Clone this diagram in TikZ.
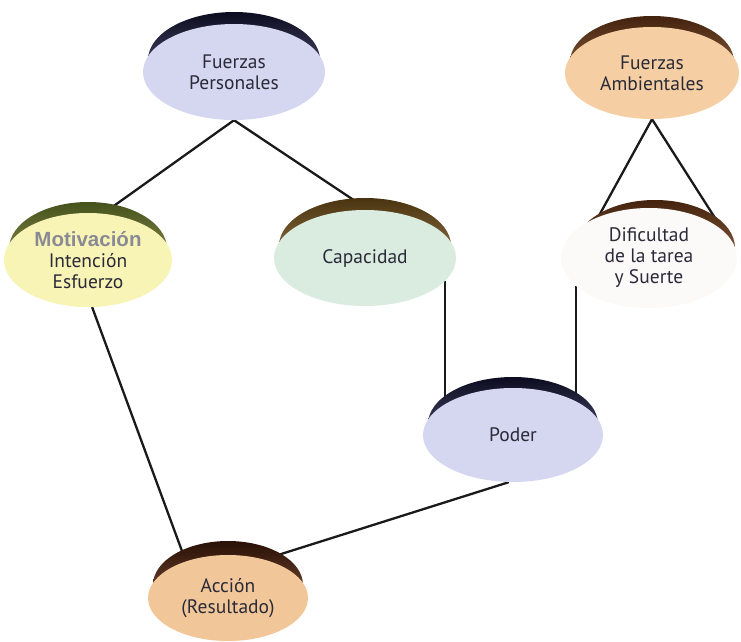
\documentclass[tikz,border=0pt]{standalone}
\usepackage{fontspec}
\setmainfont{PT Sans}
\newfontfamily\labelsans{Liberation Sans}
\usetikzlibrary{shapes.geometric,backgrounds,calc}

% disc fills
\definecolor{lavender}{HTML}{D5D7F1}
\definecolor{peach}{HTML}{F5CFA3}
\definecolor{peachdeep}{HTML}{F1C79A}
\definecolor{paleyellow}{HTML}{F8F4B6}
\definecolor{palemint}{HTML}{DAECDF}
\definecolor{nearwhite}{HTML}{FCFAF9}
% rim colours
\definecolor{navytop}{HTML}{0C0C20}
\definecolor{navylow}{HTML}{6A6A92}
\definecolor{browntop}{HTML}{43220E}
\definecolor{brownlow}{HTML}{B08058}
\definecolor{capbrowntop}{HTML}{4A3410}
\definecolor{capbrownlow}{HTML}{B09060}
\definecolor{olivetop}{HTML}{46521C}
\definecolor{olivelow}{HTML}{A8A868}
\definecolor{darkbrowntop}{HTML}{2A1006}
\definecolor{darkbrownlow}{HTML}{946448}
% text and lines
\definecolor{textdark}{HTML}{2A2A38}
\definecolor{greylabel}{HTML}{8A8A95}
\definecolor{linedark}{HTML}{1A1A1A}

\pgfdeclarelayer{paper}
\pgfsetlayers{paper,background,main}

\begin{document}
\begin{tikzpicture}[x=1pt,y=-1pt,
  disc/.style={ellipse, inner sep=0pt, align=center,
    font=\fontsize{19.5}{21}\selectfont, text=textdark},
  link/.style={line width=2.3pt, draw=linedark},
]
\useasboundingbox (0,0) rectangle (741,641);
\begin{pgfonlayer}{paper}
  \fill[white] (0,0) rectangle (741,641);
\end{pgfonlayer}

% discs
\node[disc, fill=lavender,   minimum width=182pt, minimum height=96pt] (fp)  at (234,72)  {Fuerzas\\Personales};
\node[disc, fill=peach,      minimum width=174pt, minimum height=92pt] (fa)  at (652,73)  {Fuerzas\\Ambientales};
\node[disc, fill=paleyellow, minimum width=168pt, minimum height=94pt] (mot) at (88,260)
  {{\labelsans\bfseries\color{greylabel}\fontsize{20.5}{21}\selectfont Motivación}\\Intención\\Esfuerzo};
\node[disc, fill=palemint,   minimum width=182pt, minimum height=96pt] (cap) at (365,258) {Capacidad};
\node[disc, fill=nearwhite,  minimum width=176pt, minimum height=100pt] (dif) at (649,258) {Dificultad\\de la tarea\\y Suerte};
\node[disc, fill=lavender,   minimum width=180pt, minimum height=94pt] (pod) at (513,435) {Poder};
\node[disc, fill=peachdeep,  minimum width=160pt, minimum height=86pt] (acc) at (228,598) {Acción\\(Resultado)};

\begin{scope}[on background layer]
  % connectors
  \draw[link] (fp.south) -- (mot.72);
  \draw[link] (fp.south) -- (cap.86);
  \draw[link] (fa.south) -- (dif.141);
  \draw[link] (fa.south) -- (dif.20);
  \draw[link] (cap.-16) -- (cap.-16 |- pod.center);
  \draw[link] (dif.-159) -- (dif.-159 |- pod.center);
  \draw[link] (mot.-85) -- (acc.139);
  \draw[link] (pod.-95) -- (acc.47);

  % dark rims showing above each disc
  \shade[top color=navytop, bottom color=navylow]
    ($(fp.center)+(0,-12)$) ellipse [x radius=86pt, y radius=48pt];
  \shade[top color=browntop, bottom color=brownlow]
    ($(fa.center)+(0,-11)$) ellipse [x radius=82pt, y radius=46pt];
  \shade[top color=olivetop, bottom color=olivelow]
    ($(mot.center)+(0,-11)$) ellipse [x radius=79pt, y radius=47pt];
  \shade[top color=capbrowntop, bottom color=capbrownlow]
    ($(cap.center)+(0,-12)$) ellipse [x radius=86pt, y radius=48pt];
  \shade[top color=browntop, bottom color=brownlow]
    ($(dif.center)+(6,-10)$) ellipse [x radius=80pt, y radius=48pt];
  \shade[top color=navytop, bottom color=navylow]
    ($(pod.center)+(0,-11)$) ellipse [x radius=85pt, y radius=47pt];
  \shade[top color=darkbrowntop, bottom color=darkbrownlow]
    ($(acc.center)+(0,-13)$) ellipse [x radius=75pt, y radius=44pt];
\end{scope}
\end{tikzpicture}
\end{document}
